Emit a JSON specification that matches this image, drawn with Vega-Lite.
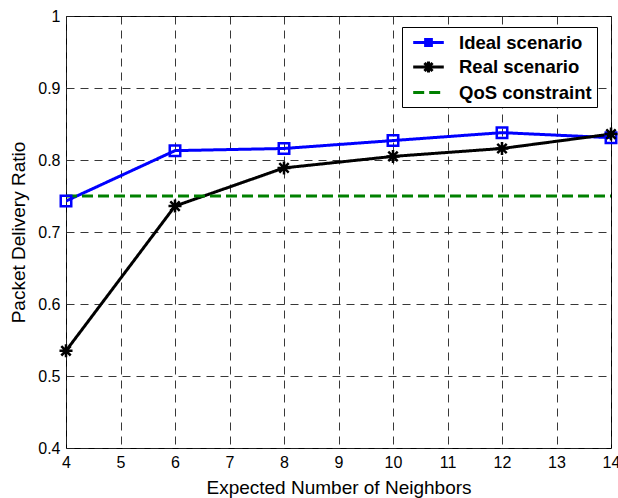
{
  "$schema": "https://vega.github.io/schema/vega-lite/v6.json",
  "width": 545,
  "height": 432,
  "autosize": {"type": "none"},
  "padding": {"left": 66, "top": 16, "right": 7, "bottom": 50},
  "background": "white",
  "config": {
    "font": "Liberation Sans",
    "view": {"stroke": "black", "strokeWidth": 1},
    "axis": {
      "labelFont": "Liberation Sans",
      "titleFont": "Liberation Sans",
      "labelFontSize": 16,
      "titleFontSize": 19,
      "labelColor": "black",
      "titleColor": "black",
      "titleFontWeight": "normal",
      "domain": false,
      "ticks": false,
      "grid": true,
      "gridColor": "#222",
      "gridDash": [8, 6],
      "gridOpacity": 0.9,
      "gridWidth": 1
    }
  },
  "data": {
    "values": [
      {"series": "Ideal scenario", "x": 4, "y": 0.743},
      {"series": "Ideal scenario", "x": 6, "y": 0.813},
      {"series": "Ideal scenario", "x": 8, "y": 0.816},
      {"series": "Ideal scenario", "x": 10, "y": 0.827},
      {"series": "Ideal scenario", "x": 12, "y": 0.838},
      {"series": "Ideal scenario", "x": 14, "y": 0.831},
      {"series": "Real scenario", "x": 4, "y": 0.535},
      {"series": "Real scenario", "x": 6, "y": 0.736},
      {"series": "Real scenario", "x": 8, "y": 0.789},
      {"series": "Real scenario", "x": 10, "y": 0.805},
      {"series": "Real scenario", "x": 12, "y": 0.816},
      {"series": "Real scenario", "x": 14, "y": 0.836},
      {"series": "QoS constraint", "x": 4, "y": 0.75},
      {"series": "QoS constraint", "x": 14, "y": 0.75}
    ]
  },
  "encoding": {
    "x": {
      "field": "x", "type": "quantitative",
      "scale": {"domain": [4, 14], "nice": false, "zero": false},
      "axis": {"values": [4,5,6,7,8,9,10,11,12,13,14], "title": "Expected Number of Neighbors", "labelPadding": 6, "titlePadding": 8, "labelFlush": false}
    },
    "y": {
      "field": "y", "type": "quantitative",
      "scale": {"domain": [0.4, 1], "nice": false, "zero": false},
      "axis": {"values": [0.4,0.5,0.6,0.7,0.8,0.9,1], "format": "~g", "title": "Packet Delivery Ratio", "labelPadding": 6, "titlePadding": 9, "labelFlush": false}
    }
  },
  "layer": [
    {
      "mark": {"type": "line", "clip": true},
      "encoding": {
        "color": {
          "field": "series", "type": "nominal",
          "scale": {"domain": ["Ideal scenario", "Real scenario", "QoS constraint"], "range": ["#0000ff", "#000000", "#008000"]},
          "legend": {
            "title": null,
            "orient": "none",
            "legendX": 336,
            "legendY": 11,
            "symbolType": "M-1.7,0L1.7,0",
            "symbolSize": 324,
            "symbolStrokeWidth": 3,
            "symbolFillColor": "white",
            "labelFontSize": 18.5,
            "labelFontWeight": "bold",
            "labelFont": "Liberation Sans",
            "labelColor": "black",
            "strokeColor": "black",
            "fillColor": "white",
            "padding": 5,
            "rowPadding": 3.5,
            "labelOffset": 20,
            "symbolOffset": 11,
            "encode": {
              "symbols": {
                "update": {
                  "fill": {"value": "white"},
                  "fillOpacity": {"value": 0},
                  "shape": {"signal": "datum.value === 'Ideal scenario' ? 'M-1.7,0L1.7,0M-0.32,-0.32L0.32,-0.32L0.32,0.32L-0.32,0.32Z' : datum.value === 'Real scenario' ? 'M-1.7,0L1.7,0M0,-0.6L0,0.6M-0.45,-0.45L0.45,0.45M-0.45,0.45L0.45,-0.45' : 'M-1.7,0L1.7,0'"}
                }
              }
            }
          }
        },
        "strokeDash": {
          "field": "series", "type": "nominal",
          "scale": {"domain": ["Ideal scenario", "Real scenario", "QoS constraint"], "range": [[1, 0], [1, 0], [11, 5]]},
          "legend": null
        },
        "strokeWidth": {
          "field": "series", "type": "nominal",
          "scale": {"domain": ["Ideal scenario", "Real scenario", "QoS constraint"], "range": [3, 3, 4]},
          "legend": null
        }
      }
    },
    {
      "transform": [{"filter": "datum.series !== 'QoS constraint'"}],
      "mark": {"type": "point", "filled": false, "strokeWidth": 2.5, "opacity": 1, "clip": false},
      "encoding": {
        "color": {"field": "series", "type": "nominal", "scale": {"domain": ["Ideal scenario", "Real scenario", "QoS constraint"], "range": ["#0000ff", "#000000", "#008000"]}, "legend": null},
        "shape": {
          "field": "series", "type": "nominal",
          "scale": {"domain": ["Ideal scenario", "Real scenario"], "range": ["square", "M-1,0L1,0M0,-1L0,1M-0.72,-0.72L0.72,0.72M-0.72,0.72L0.72,-0.72"]},
          "legend": null
        },
        "size": {
          "field": "series", "type": "nominal",
          "scale": {"domain": ["Ideal scenario", "Real scenario"], "range": [110, 170]},
          "legend": null
        }
      }
    }
  ]
}
